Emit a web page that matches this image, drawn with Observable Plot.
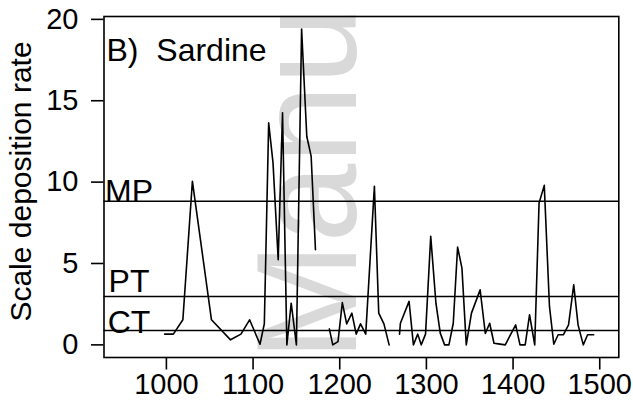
<!DOCTYPE html>
<html>
<head>
<meta charset="utf-8">
<script src="https://cdn.jsdelivr.net/npm/d3@7"></script>
<script src="https://cdn.jsdelivr.net/npm/@observablehq/plot@0.6"></script>
<style>
  html, body { margin: 0; padding: 0; background: #fff; }
</style>
</head>
<body>
<div id="chart"></div>
<script>
// Sardine scale deposition rate by year (null = no record, leaves a gap in the line)
const years = [
  998, 1008, 1019, 1030, 1052, 1074, 1086, 1096, 1108, 1113,
  1118, 1123, 1129, 1134, 1139, 1144, 1150, 1156, 1162, 1167, 1172,
  1180,
  1188, 1192, 1198, 1203, 1208, 1214, 1219, 1224, 1230, 1240, 1245, 1251, 1257,
  1263,
  1269, 1270, 1280, 1285, 1290, 1294, 1299, 1305, 1311, 1316, 1321, 1326,
  1331, 1336, 1341, 1346, 1352, 1362, 1368, 1373, 1378, 1383, 1391,
  1403, 1408, 1414, 1419, 1425, 1430, 1436, 1442, 1447, 1452, 1458,
  1464, 1470, 1475, 1481, 1486, 1493
];
const rates = [
  0.66, 0.66, 1.54, 10.05, 1.54, 0.31, 0.66, 1.54, 0.04, 1.3,
  13.64, 11.2, 5.23, 14.26, 0, 2.56, 0, 19.4, 12.8, 11.6, 5.85,
  null,
  0.98, 0, 0.2, 2.6, 1.29, 1.95, 0.66, 1.29, 0.66, 9.74, 1.95, 1.29, 0,
  null,
  0.66, 1.33, 2.67, 0, 0.66, 0, 0.66, 6.67, 2.56, 0.72, 0, 0,
  1.33, 6.01, 4.72, 0, 1.95, 3.38, 0.7, 1.33, 0.1, 0.06, 0,
  1.23, 0, 0, 1.85, 0, 8.72, 9.8, 2.36, 0.04, 0.62, 0.62,
  1.23, 3.69, 1.23, 0, 0.62, 0.62
];

// Reference levels drawn as horizontal lines
const levelNames = ["MP", "PT", "CT"];
const levelValues = [8.82, 2.97, 0.88];

const xTicks = [1000, 1100, 1200, 1300, 1400, 1500];
const yTicks = [0, 5, 10, 15, 20];

const panelTitle = "B)\u00a0\u00a0Sardine";
const yTitle = "Scale deposition rate";
const backdropText = "Manu";

const series = years.map((year, i) => ({year, rate: rates[i]}));
const levels = levelNames.map((name, i) => ({name, value: levelValues[i]}));

const font = "'Liberation Sans', Arial, Helvetica, sans-serif";
const ink = "#000";
const lw = 1.6;

// per-label vertical nudges so each tag sits just above its line
const levelLabel = (name, dy) => Plot.text(levels.filter(d => d.name === name), {
  y: "value", text: "name", frameAnchor: "left", dx: 25, dy,
  textAnchor: "middle", lineAnchor: "middle", fontSize: 32, fill: ink
});

const chart = Plot.plot({
  width: 633,
  height: 407,
  marginLeft: 103.5,
  marginRight: 14.7,
  marginTop: 16,
  marginBottom: 50,
  style: {fontFamily: font, fontSize: "29px", color: ink, background: "#fff", overflow: "visible"},
  x: {domain: [928, 1522]},
  y: {domain: [-0.776, 20.176]},
  marks: [
    Plot.text([backdropText], {
      text: d => d, frameAnchor: "bottom-left", dx: 251.5, dy: 3.5,
      rotate: -90, textAnchor: "start", lineAnchor: "bottom",
      fontSize: 142, fill: "#d9d9d9"
    }),
    Plot.ruleY(levels, {y: "value", stroke: ink, strokeWidth: lw}),
    Plot.line(series, {
      x: "year", y: "rate", stroke: ink, strokeWidth: lw,
      strokeLinejoin: "round", strokeLinecap: "round"
    }),
    Plot.frame({stroke: ink, strokeWidth: lw}),
    Plot.axisX({
      ticks: xTicks, tickSize: 12.5, tickPadding: 3, strokeWidth: lw,
      tickFormat: d => String(d), fontSize: 29, label: null
    }),
    Plot.axisY({
      ticks: yTicks, tickSize: 12.5, tickPadding: 13, strokeWidth: lw,
      tickFormat: d => String(d), fontSize: 29, label: null
    }),
    Plot.text([yTitle], {
      text: d => d, frameAnchor: "left", dx: -82.5, dy: -5.5,
      rotate: -90, textAnchor: "middle", lineAnchor: "middle", fontSize: 30, fill: ink
    }),
    Plot.text([panelTitle], {
      text: d => d, frameAnchor: "top-left", dx: 2.5, dy: 22,
      textAnchor: "start", lineAnchor: "top", fontSize: 32, fill: ink
    }),
    levelLabel("MP", -9.3),
    levelLabel("PT", -15),
    levelLabel("CT", -8)
  ]
});

document.getElementById("chart").appendChild(chart);
</script>
</body>
</html>
